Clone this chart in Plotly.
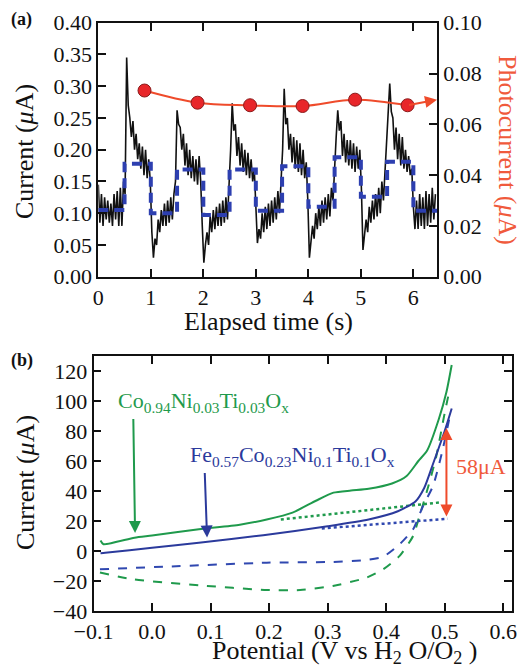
import plotly.graph_objects as go
import numpy as np

# ---------------- Panel (a) data ----------------
sig_dt = 0.03  # sampling step of the trace (s)
sig_current = [
    0.145, 0.085, 0.13, 0.08, 0.125, 0.09, 0.12, 0.085, 0.115, 0.08, 0.13, 0.09, 0.135, 0.08, 0.14, 0.08, 0.15,
    0.13, 0.345, 0.27, 0.25, 0.22, 0.245, 0.2, 0.225, 0.185, 0.21, 0.17, 0.205, 0.16, 0.2, 0.155, 0.185, 0.15,
    0.07, 0.03, 0.06, 0.05, 0.09, 0.07, 0.105, 0.08, 0.115, 0.08, 0.12, 0.085, 0.125, 0.09, 0.13, 0.15,
    0.262, 0.24, 0.235, 0.2, 0.225, 0.175, 0.21, 0.16, 0.2, 0.155, 0.19, 0.15, 0.185, 0.145, 0.19, 0.15,
    0.08, 0.022, 0.05, 0.07, 0.05, 0.095, 0.07, 0.105, 0.075, 0.11, 0.08, 0.115, 0.08, 0.12, 0.085, 0.125, 0.09, 0.14,
    0.2, 0.273, 0.23, 0.24, 0.19, 0.22, 0.175, 0.21, 0.165, 0.2, 0.16, 0.195, 0.155, 0.185, 0.15, 0.17,
    0.11, 0.053, 0.075, 0.06, 0.1, 0.07, 0.11, 0.075, 0.115, 0.08, 0.12, 0.085, 0.125, 0.09, 0.135, 0.1, 0.15, 0.2,
    0.296, 0.24, 0.25, 0.2, 0.225, 0.18, 0.22, 0.17, 0.215, 0.165, 0.21, 0.16, 0.2, 0.155, 0.18, 0.12,
    0.03, 0.06, 0.08, 0.06, 0.1, 0.075, 0.11, 0.08, 0.12, 0.085, 0.125, 0.09, 0.13, 0.095, 0.14, 0.12, 0.18,
    0.22, 0.262, 0.23, 0.245, 0.19, 0.225, 0.18, 0.215, 0.175, 0.215, 0.17, 0.21, 0.165, 0.205, 0.17, 0.2, 0.14,
    0.042, 0.07, 0.09, 0.07, 0.11, 0.085, 0.12, 0.09, 0.13, 0.095, 0.14, 0.1, 0.15, 0.12, 0.17, 0.2,
    0.25, 0.304, 0.26, 0.25, 0.2, 0.235, 0.185, 0.225, 0.175, 0.22, 0.17, 0.2, 0.165, 0.19, 0.16, 0.17, 0.11,
    0.075, 0.12, 0.075, 0.13, 0.08, 0.125, 0.075, 0.135, 0.08, 0.13, 0.085, 0.14, 0.09, 0.13,
]
sig_time = np.round(np.arange(len(sig_current)) * sig_dt, 3)

# blue dashed square wave: switching edges (s) and level in each interval
step_edges = [0.0, 0.5, 1.0, 1.5, 2.0, 2.5, 3.0, 3.5, 4.0, 4.5, 5.0, 5.5, 6.0, 6.45]
step_levels = [0.105, 0.178, 0.100, 0.169, 0.097, 0.169, 0.104, 0.174, 0.110, 0.188, 0.126, 0.181, 0.104]

# red photocurrent points (right axis)
photo_time = [0.88, 1.89, 2.89, 3.89, 4.89, 5.89]
photo_current = [0.0733, 0.0685, 0.0675, 0.0672, 0.0697, 0.0675]
photo_arrow_time = 6.45
photo_arrow_current = 0.0697

# ---------------- Panel (b) data ----------------
co_fwd_V = [-0.088, -0.083, -0.03, 0.0, 0.08, 0.15, 0.196, 0.24, 0.28, 0.31, 0.34, 0.37, 0.41, 0.435, 0.455, 0.47, 0.49, 0.503, 0.512]
co_fwd_I = [7, 4.5, 8.9, 10.3, 14.5, 17.5, 21, 25.6, 33.5, 38.9, 40.3, 41.5, 45, 50, 60, 67, 88, 106, 124]
co_rev_V = [-0.089, -0.032, 0.082, 0.196, 0.253, 0.309, 0.366, 0.395, 0.423, 0.446, 0.457, 0.469, 0.485, 0.5, 0.507]
co_rev_I = [-14.4, -18.9, -22.9, -26, -26, -23.3, -17.8, -12.2, -3.3, 10, 23.3, 39, 62, 92, 105]
co_base_V = [0.22, 0.495]
co_base_I = [21, 32.5]

fe_fwd_V = [-0.088, -0.08, 0.0, 0.08, 0.19, 0.3, 0.37, 0.42, 0.45, 0.465, 0.48, 0.5, 0.512]
fe_fwd_I = [-1.5, -1.2, 2.2, 5.5, 10.5, 16.5, 21, 26.5, 33, 42, 58, 80, 95]
fe_rev_V = [-0.089, 0.025, 0.196, 0.309, 0.366, 0.395, 0.423, 0.446, 0.463, 0.48, 0.495, 0.51]
fe_rev_I = [-12.2, -10.4, -7.8, -7.3, -6, -3.8, 4.5, 14.5, 30, 43.3, 65, 92]
fe_base_V = [0.29, 0.505]
fe_base_I = [15, 21.5]

gap_V = 0.503
gap_low, gap_high = 22, 82

FONT = "Liberation Serif"
GREEN = "#1f9a4c"
BLUE = "#2b3a9c"
BLUE2 = "#3048b0"
RED = "#ef4b2b"

# the page body has an 8px margin: lay out in window pixels and convert
OFF = 8
FW, FH = 527 - OFF, 670 - OFF


def px_x(X):
    return (X - OFF) / FW


def px_y(Y):
    return 1 - (Y - OFF) / FH


fig = go.Figure()

# ---- panel (a) traces ----
fig.add_trace(go.Scatter(x=sig_time, y=sig_current, mode="lines",
                         line=dict(color="#111111", width=1.6), xaxis="x", yaxis="y"))
st_x, st_y = [], []
for k, lev in enumerate(step_levels):
    st_x += [step_edges[k], step_edges[k + 1]]
    st_y += [lev, lev]
fig.add_trace(go.Scatter(x=st_x, y=st_y, mode="lines",
                         line=dict(color="#2d3fb0", width=4, dash="10px,6px"), xaxis="x", yaxis="y"))
fig.add_trace(go.Scatter(x=photo_time, y=photo_current, mode="lines+markers",
                         line=dict(color=RED, width=2, shape="spline"),
                         marker=dict(size=13, color="#e8262a", line=dict(color="#8b1a1a", width=1)),
                         xaxis="x", yaxis="y2"))

# ---- panel (b) traces ----
def add_b(x, y, color, dash, width=2):
    fig.add_trace(go.Scatter(x=x, y=y, mode="lines",
                             line=dict(color=color, width=width, dash=dash, shape="spline", smoothing=0.6),
                             xaxis="x2", yaxis="y3"))

add_b(co_rev_V, co_rev_I, GREEN, "dash")
add_b(fe_rev_V, fe_rev_I, BLUE2, "dash")
add_b(co_base_V, co_base_I, GREEN, "dot", 2.5)
add_b(fe_base_V, fe_base_I, BLUE2, "dot", 2.5)
add_b(co_fwd_V, co_fwd_I, GREEN, "solid")
add_b(fe_fwd_V, fe_fwd_I, BLUE, "solid")

tickfont = dict(family=FONT, size=22, color="#111")
axis_common = dict(showline=True, linecolor="#111", linewidth=1.8, ticks="inside", ticklen=8,
                   tickwidth=1.5, tickcolor="#111", showgrid=False, zeroline=False, tickfont=tickfont,
                   automargin=False)

fig.update_layout(
    width=FW, height=FH, margin=dict(l=0, r=0, t=0, b=0),
    paper_bgcolor="white", plot_bgcolor="white", showlegend=False,
    font=dict(family=FONT, color="#111"),
    xaxis=dict(domain=[px_x(98.3), px_x(437)], anchor="y", range=[0, 6.45], tickvals=[0, 1, 2, 3, 4, 5, 6],
               mirror="ticks", **axis_common),
    yaxis=dict(domain=[px_y(276.7), px_y(22.7)], anchor="x", range=[0, 0.4],
               tickvals=[0, 0.05, 0.1, 0.15, 0.2, 0.25, 0.3, 0.35, 0.4], tickformat=".2f", **axis_common),
    yaxis2=dict(overlaying="y", side="right", anchor="x", range=[0, 0.1],
                tickvals=[0, 0.02, 0.04, 0.06, 0.08, 0.1], tickformat=".2f", **axis_common),
    xaxis2=dict(domain=[px_x(93.5), px_x(512)], anchor="y3", range=[-0.1, 0.615],
                tickvals=[-0.1, 0, 0.1, 0.2, 0.3, 0.4, 0.5, 0.6], tickformat=".1f", mirror="ticks", **axis_common),
    yaxis3=dict(domain=[px_y(611), px_y(356)], anchor="x2", range=[-40, 130],
                tickvals=[-40, -20, 0, 20, 40, 60, 80, 100, 120], mirror="ticks", **axis_common),
)

ann = []
tfont = dict(family=FONT, size=26, color="#111")


def ptext(text, X, Y, angle=0, font=tfont, xanchor="center"):
    ann.append(dict(text=text, x=px_x(X), y=px_y(Y), xref="paper", yref="paper",
                    xanchor=xanchor, yanchor="middle", showarrow=False, textangle=angle, font=font))


# axis titles
ptext("Elapsed time (s)", 268, 322)
ptext("Current (<i>μ</i>A)", 25, 152, -90)
ptext("Photocurrent (<i>μ</i>A)", 508, 150, 90, dict(family=FONT, size=26, color="#f05a3c"))
ptext("Potential (V vs H<sub>2</sub> O/O<sub>2</sub> )", 344, 652)
ptext("Current (<i>μ</i>A)", 25, 483, -90)
# panel labels
ptext("<b>(a)</b>", 9, 20, font=dict(family=FONT, size=18, color="#111"), xanchor="left")
ptext("<b>(b)</b>", 9, 361, font=dict(family=FONT, size=18, color="#111"), xanchor="left")

# photocurrent arrow
ann.append(dict(x=photo_arrow_time, y=photo_arrow_current, ax=photo_time[-1], ay=photo_current[-1],
                xref="x", yref="y2", axref="x", ayref="y2", text="", showarrow=True,
                arrowhead=2, arrowsize=1.2, arrowwidth=2, arrowcolor=RED, standoff=0, startstandoff=0))
# panel (b) labels and arrows
ann.append(dict(text="Co<sub>0.94</sub>Ni<sub>0.03</sub>Ti<sub>0.03</sub>O<sub>x</sub>", x=-0.062, y=99,
                xref="x2", yref="y3", xanchor="left", yanchor="middle", showarrow=False,
                font=dict(family=FONT, size=22, color=GREEN)))
ann.append(dict(text="Fe<sub>0.57</sub>Co<sub>0.23</sub>Ni<sub>0.1</sub>Ti<sub>0.1</sub>O<sub>x</sub>", x=0.061, y=63,
                xref="x2", yref="y3", xanchor="left", yanchor="middle", showarrow=False,
                font=dict(family=FONT, size=22, color=BLUE)))
ann.append(dict(x=-0.029, y=12, ax=-0.032, ay=89, xref="x2", yref="y3", axref="x2", ayref="y3", text="",
                showarrow=True, arrowhead=2, arrowsize=1.2, arrowwidth=2, arrowcolor=GREEN))
ann.append(dict(x=0.094, y=9, ax=0.09, ay=53, xref="x2", yref="y3", axref="x2", ayref="y3", text="",
                showarrow=True, arrowhead=2, arrowsize=1.2, arrowwidth=2, arrowcolor=BLUE))
ann.append(dict(x=gap_V, y=gap_high, ax=gap_V, ay=gap_low, xref="x2", yref="y3", axref="x2", ayref="y3", text="",
                showarrow=True, arrowhead=2, arrowside="end+start", arrowsize=1.2, arrowwidth=2, arrowcolor=RED))
ann.append(dict(text="58μA", x=0.516, y=56, xref="x2", yref="y3", xanchor="left", yanchor="middle",
                showarrow=False, font=dict(family=FONT, size=22, color="#f05a3c")))
fig.update_layout(annotations=ann)

fig.write_html("out.html")
